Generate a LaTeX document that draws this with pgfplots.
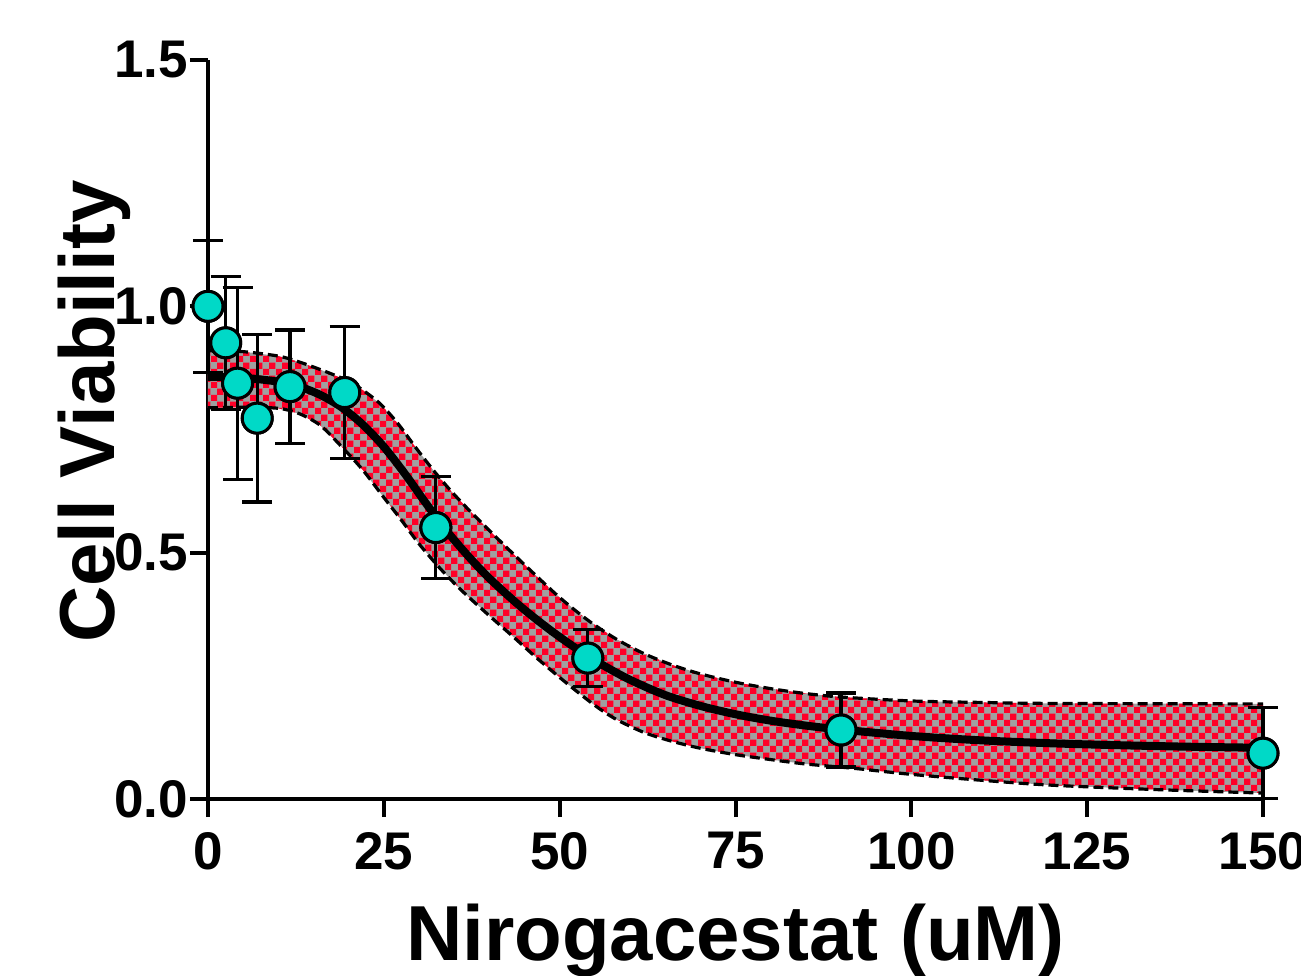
\documentclass[border=0pt]{standalone}
\usepackage{fontspec}
\setmainfont{Liberation Sans}
\usepackage{pgfplots}
\usepackage{pgfplotstable}
\pgfplotsset{compat=1.18}
\usepgfplotslibrary{fillbetween}
\usetikzlibrary{patterns}

\definecolor{chkred}{RGB}{255,0,40}
\definecolor{chkgray}{RGB}{160,160,160}
\definecolor{dotfill}{RGB}{0,217,199}

% red/grey checkerboard used for the confidence band
\pgfdeclarepatternformonly{checks}{\pgfpointorigin}{\pgfqpoint{6.6pt}{6.6pt}}{\pgfqpoint{6.6pt}{6.6pt}}{%
  \pgfpathrectangle{\pgfpointorigin}{\pgfqpoint{3.3pt}{3.3pt}}%
  \pgfpathrectangle{\pgfqpoint{3.3pt}{3.3pt}}{\pgfqpoint{3.3pt}{3.3pt}}%
  \pgfusepath{fill}}

% measured viability, mean and SD
\pgfplotstableread{
x      y      e
0      1.000  0.134
2.52   0.926  0.135
4.20   0.844  0.195
7.00   0.773  0.170
11.66  0.837  0.115
19.44  0.825  0.134
32.40  0.551  0.104
54.00  0.286  0.058
90.00  0.140  0.075
150.00 0.093  0.092
}\pts

% fitted curve
\pgfplotstableread{
x    y
0    0.857
5    0.855
10   0.847
13   0.837
16   0.820
19   0.795
22   0.760
25   0.715
28   0.660
31   0.600
34   0.543
37   0.493
40   0.448
44   0.396
48   0.350
52   0.309
56   0.273
60   0.242
65   0.211
70   0.189
75   0.172
80   0.159
85   0.149
90   0.141
100  0.128
110  0.119
120  0.113
130  0.109
140  0.106
150  0.104
}\fitcurve

% 95% band, upper edge
\pgfplotstableread{
x    y
0    0.910
5    0.908
10   0.899
13   0.887
17   0.866
20   0.848
22   0.830
24.5 0.802
27   0.762
29.5 0.714
32   0.668
34.5 0.626
37   0.588
40   0.545
43   0.503
46   0.462
50   0.409
54   0.363
58   0.325
62   0.295
66   0.272
70   0.254
75   0.237
80   0.224
85   0.214
90   0.207
100  0.199
110  0.196
120  0.194
150  0.193
}\bandhi

% 95% band, lower edge
\pgfplotstableread{
x    y
0    0.794
5    0.795
10   0.793
13   0.782
16   0.758
19   0.715
22   0.668
25   0.612
27.5 0.566
30   0.518
33   0.468
36   0.424
40   0.372
43.5 0.328
47   0.283
51   0.235
55   0.190
58   0.162
62   0.135
66   0.117
70   0.103
75   0.090
80   0.080
85   0.071
92   0.062
100  0.050
110  0.038
120  0.028
135  0.019
150  0.012
}\bandlo

\begin{document}
\begin{tikzpicture}
\begin{axis}[
    scale only axis,
    width=527.5pt, height=369.5pt,
    xmin=0, xmax=150, ymin=0, ymax=1.5,
    axis lines=left,
    axis line style={line width=2pt, -},
    xtick={0,25,...,150},
    ytick={0,0.5,1,1.5},
    tick align=outside,
    major tick length=9pt,
    tick style={line width=2pt, black},
    yticklabel style={/pgf/number format/fixed, /pgf/number format/fixed zerofill,
        /pgf/number format/precision=1, xshift=2.5pt},
    xticklabel style={yshift=-4pt},
    ticklabel style={font=\fontsize{26.5}{26.5}\selectfont\bfseries},
    /pgf/number format/assume math mode=true,
    xlabel={Nirogacestat (uM)},
    ylabel={Cell Viability},
    label style={font=\fontsize{39}{39}\selectfont\bfseries},
    xlabel style={at={(axis description cs:0.5,-0.2179)}, anchor=base},
    ylabel style={at={(axis description cs:-0.0882,0.524)}, anchor=base},
    clip=false,
]
\coordinate (bl) at (rel axis cs:0,0);
\coordinate (tr) at (rel axis cs:1,1);

\addplot[draw=none, name path=up, forget plot] table[x=x,y=y]{\bandhi};
\addplot[draw=none, name path=lo, forget plot] table[x=x,y=y]{\bandlo};
\addplot[fill=chkgray, draw=none, forget plot] fill between[of=up and lo];
\addplot[pattern=checks, pattern color=chkred, draw=none, forget plot] fill between[of=up and lo];
\addplot[black, line width=1.6pt, dash pattern=on 5pt off 2.5pt, smooth] table[x=x,y=y]{\bandhi};
\addplot[black, line width=1.6pt, dash pattern=on 5pt off 2.5pt, smooth] table[x=x,y=y]{\bandlo};

\addplot[black, line width=4pt, smooth, line join=round] table[x=x,y=y]{\fitcurve};

\addplot[only marks, mark=*, mark size=7.5pt,
    mark options={fill=dotfill, draw=black, line width=1.5pt},
    error bars/.cd, y dir=both, y explicit,
    error bar style={black, line width=1.6pt, solid},
    error mark options={black, line width=1.6pt, mark size=7.5pt, rotate=90}]
    table[x=x, y=y, y error=e]{\pts};
% markers again so that they sit above the error bars
\addplot[only marks, mark=*, mark size=7.5pt,
    mark options={fill=dotfill, draw=black, line width=1.5pt}]
    table[x=x, y=y]{\pts};
\end{axis}
\pgfresetboundingbox
\path ([xshift=-104pt,yshift=-88pt]bl) rectangle ([xshift=19pt,yshift=30pt]tr);
\end{tikzpicture}
\end{document}
